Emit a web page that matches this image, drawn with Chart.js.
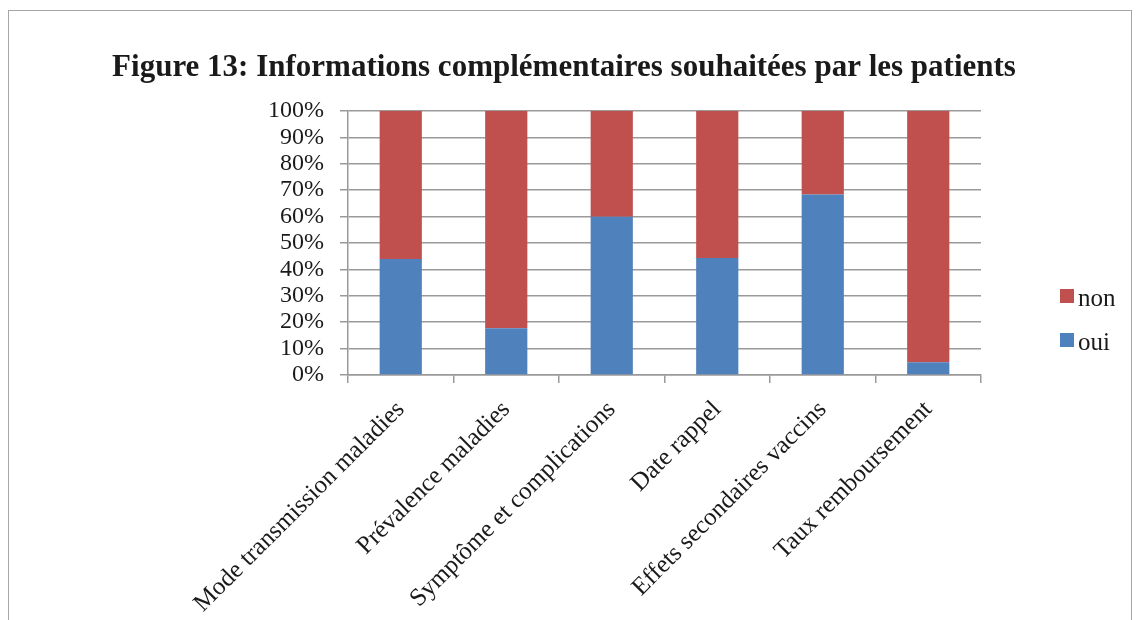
<!DOCTYPE html>
<html>
<head>
<meta charset="utf-8">
<script src="https://cdn.jsdelivr.net/npm/chart.js@4"></script>
<style>
    html, body { margin: 0; padding: 0; background: #fff; }
    #wrap { position: relative; width: 1136px; height: 620px; overflow: hidden; }
    #frame { position: absolute; left: 8px; top: 10px; width: 1122px; height: 700px;
             border: 1px solid #a6a6a6; }
    canvas { position: absolute; left: 0; top: 0; }
</style>
</head>
<body>
<div id="wrap">
    <div id="frame"></div>
    <canvas id="chart-area" width="1136" height="620"></canvas>
</div>
<script>
    const categories = [
        'Mode transmission maladies',
        'Prévalence maladies',
        'Symptôme et complications',
        'Date rappel',
        'Effets secondaires vaccins',
        'Taux remboursement'
    ];
    const ouiValues = [43.9, 17.7, 59.9, 44.3, 68.4, 4.8];
    const nonValues = [56.1, 82.3, 40.1, 55.7, 31.6, 95.2];
    const yTicks = [0, 10, 20, 30, 40, 50, 60, 70, 80, 90, 100];
    const titleText = 'Figure 13: Informations complémentaires souhaitées par les patients';

    const chartColors = {
        blue: '#4F81BD',
        red: '#C0504D',
        grid: '#9a9a9a',
        text: '#1a1a1a'
    };
    const serif = "'Liberation Serif', 'Times New Roman', serif";

    // title centred on the whole picture, legend to the right (non above oui)
    const pageDecor = {
        id: 'pageDecor',
        afterDraw: function(chart) {
            const ctx = chart.ctx;
            ctx.save();
            ctx.fillStyle = chartColors.text;
            ctx.font = 'bold 31px ' + serif;
            ctx.textAlign = 'center';
            ctx.textBaseline = 'alphabetic';
            ctx.fillText(titleText, 564, 76);

            ctx.font = '25px ' + serif;
            ctx.textAlign = 'left';
            const items = chart.data.datasets.slice().reverse();
            items.forEach(function(ds, i) {
                const y = 296 + i * 44;
                ctx.fillStyle = ds.backgroundColor;
                ctx.fillRect(1060, y - 7, 14, 14);
                ctx.fillStyle = chartColors.text;
                ctx.fillText(ds.label, 1078, y + 10);
            });
            ctx.restore();
        }
    };

    const config = {
        type: 'bar',
        data: {
            labels: categories,
            datasets: [
                { label: 'oui', data: ouiValues, backgroundColor: chartColors.blue,
                  categoryPercentage: 1, barPercentage: 0.4 },
                { label: 'non', data: nonValues, backgroundColor: chartColors.red,
                  categoryPercentage: 1, barPercentage: 0.4 }
            ]
        },
        options: {
            animation: false,
            responsive: false,
            layout: { padding: { right: 155, left: 0, bottom: 0, top: 111 } },
            plugins: {
                legend: { display: false },
                tooltip: { enabled: false },
                title: { display: false }
            },
            scales: {
                x: {
                    stacked: true,
                    afterFit: function(scale) { scale.height = 245; },
                    grid: { offset: true, drawOnChartArea: false, color: chartColors.grid,
                            tickLength: 8, lineWidth: 1.5 },
                    border: { color: chartColors.grid, width: 1.5 },
                    ticks: {
                        color: chartColors.text,
                        font: { family: serif, size: 25 },
                        minRotation: 45, maxRotation: 45, padding: 12
                    }
                },
                y: {
                    stacked: true,
                    min: 0, max: 100,
                    afterFit: function(scale) { scale.width = 348; },
                    afterBuildTicks: function(scale) {
                        scale.ticks = yTicks.map(function(v) { return { value: v }; });
                    },
                    grid: { color: chartColors.grid, tickLength: 8, lineWidth: 1.5 },
                    border: { color: chartColors.grid, width: 1.5 },
                    ticks: {
                        autoSkip: false,
                        color: chartColors.text,
                        font: { family: serif, size: 24 },
                        padding: 16,
                        callback: function(v) { return v + '%'; }
                    }
                }
            }
        },
        plugins: [pageDecor]
    };

    const ctx = document.getElementById('chart-area').getContext('2d');
    window.myBar = new Chart(ctx, config);
</script>
</body>
</html>
